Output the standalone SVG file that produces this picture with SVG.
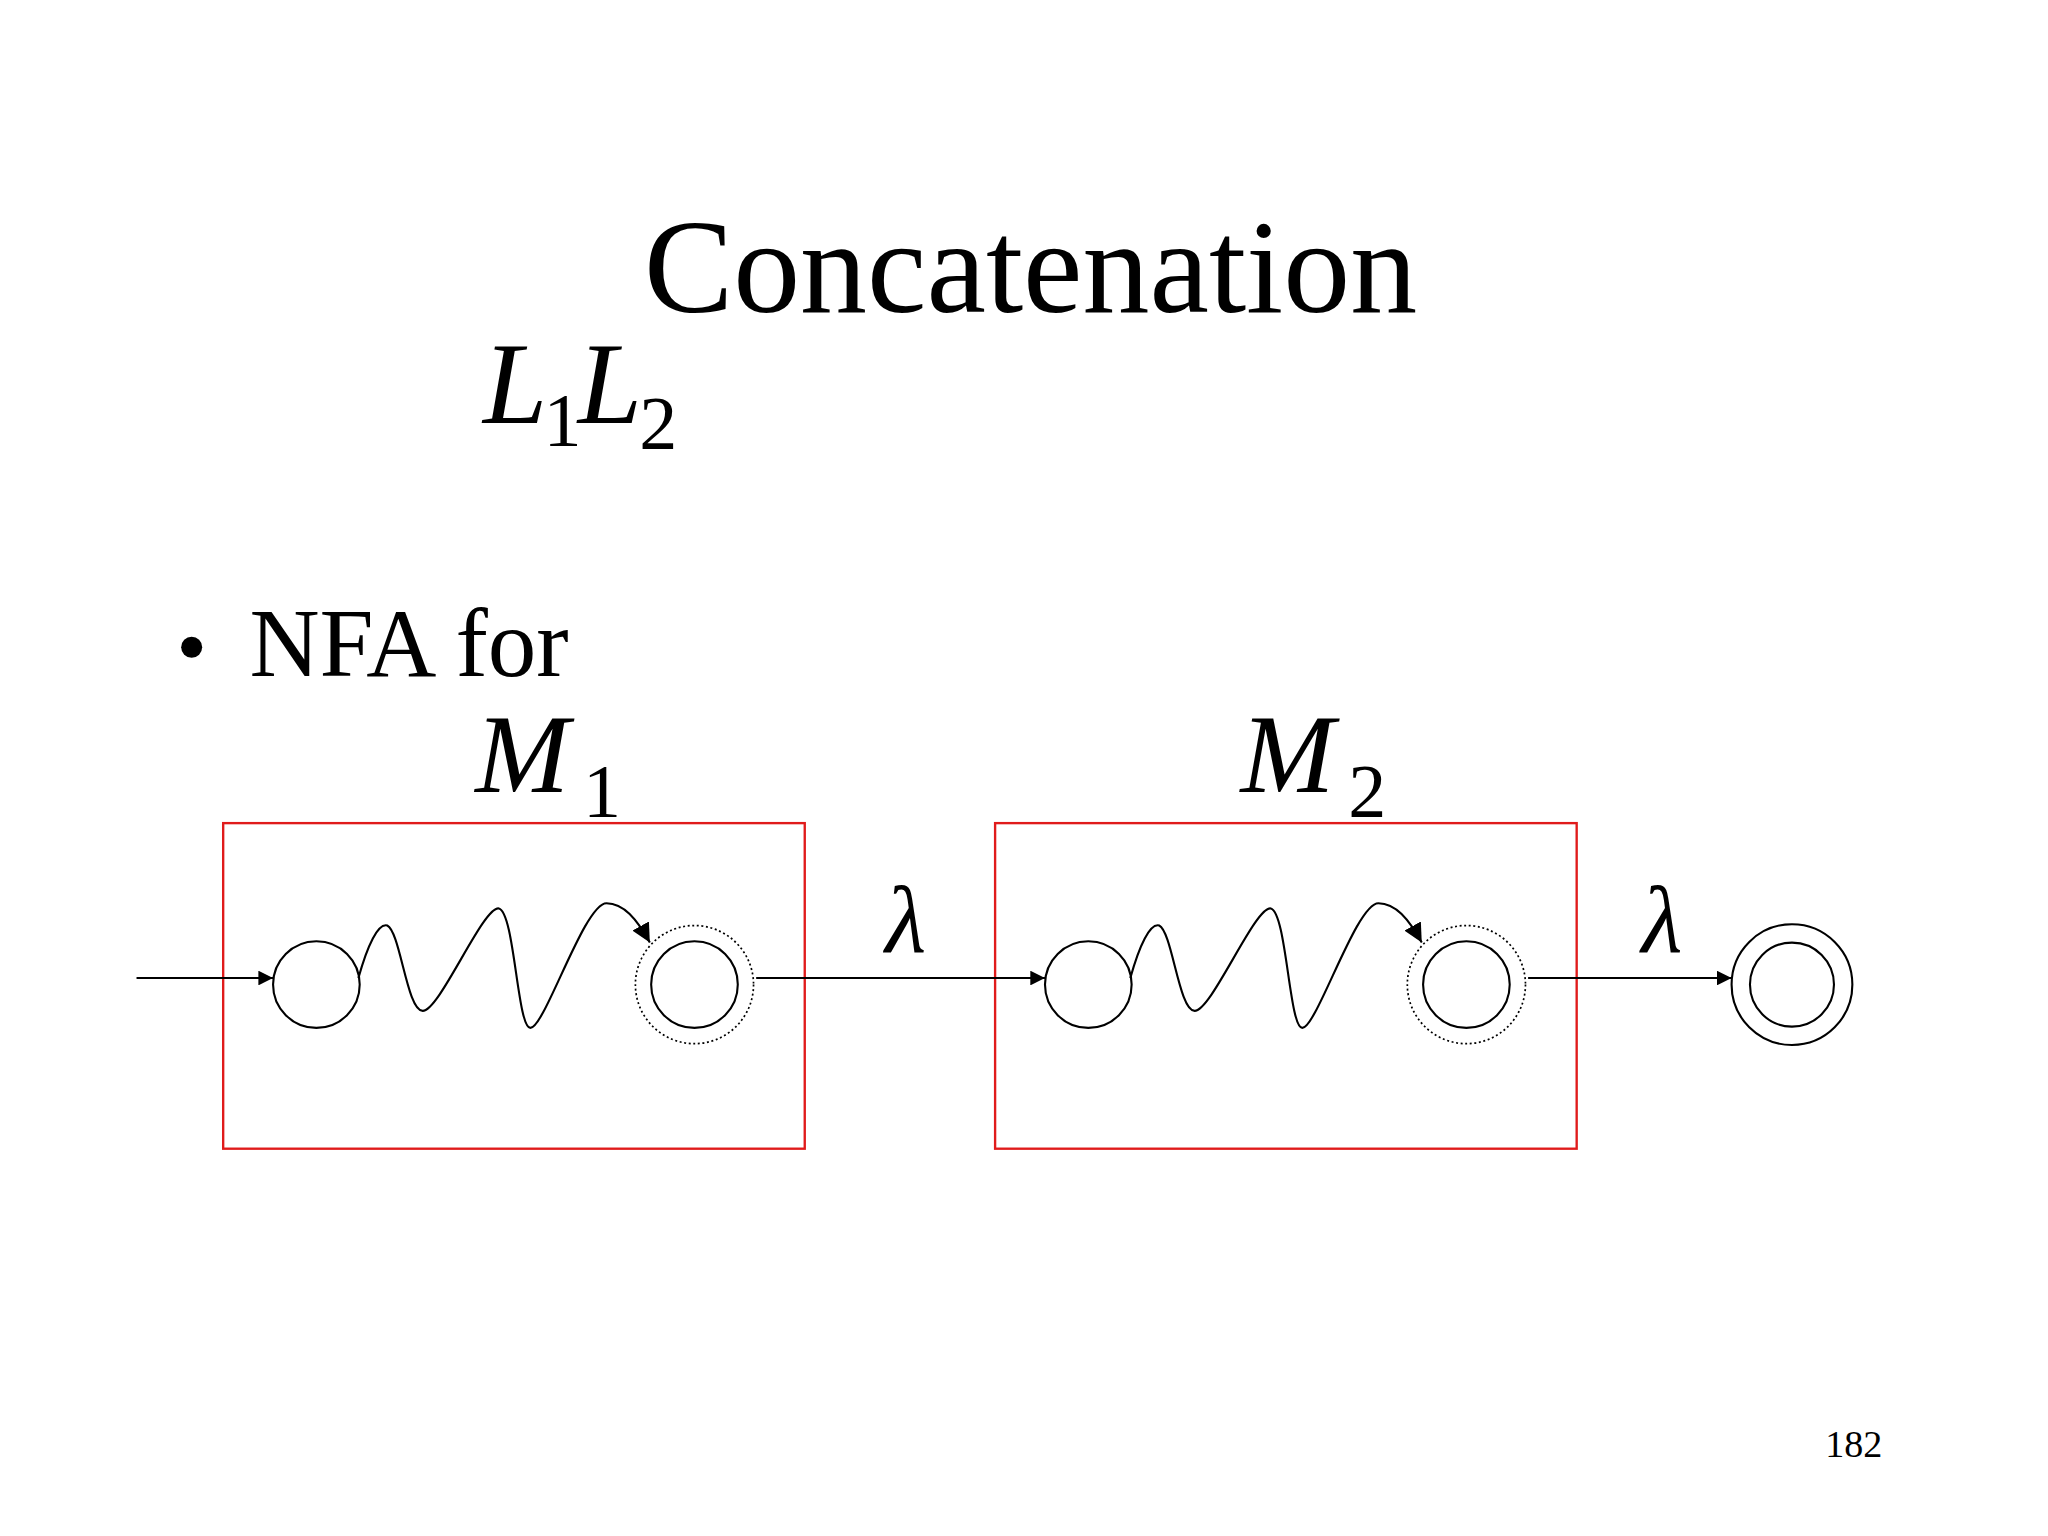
<svg xmlns="http://www.w3.org/2000/svg" width="2048" height="1536" viewBox="0 0 2048 1536">
<defs>
<style>
.t{font-family:"Liberation Serif","Times New Roman",serif;fill:#000}
.i{font-style:italic}
.c{fill:none;stroke:#000;stroke-width:1.6}
.box{fill:none;stroke:#e01b1b;stroke-width:1.8}
.e{fill:none;stroke:#000;stroke-width:1.6}
</style>
<marker id="ah" viewBox="0 0 10 10" refX="10" refY="5" markerWidth="7" markerHeight="7" markerUnits="strokeWidth" orient="auto"><path d="M0,0L10,5L0,10z" fill="#000"/></marker>
<marker id="ah2" viewBox="0 0 10 10" refX="10" refY="5" markerWidth="9" markerHeight="9" markerUnits="strokeWidth" orient="auto"><path d="M0,0L10,5L0,10z" fill="#000"/></marker>
</defs>
<rect width="2048" height="1536" fill="#fff"/>
<g transform="scale(1.3128)">
<text class="t" x="785" y="238" font-size="102" text-anchor="middle">Concatenation</text>
<g id="title-l1l2"><text class="t i" x="368" y="322" font-size="88">L</text><text class="t" x="414" y="340" font-size="58">1</text><text class="t i" x="440" y="322" font-size="88">L</text><text class="t" x="487" y="342" font-size="58">2</text></g>
<circle cx="146" cy="493" r="8" fill="#000"/>
<text class="t" x="190" y="515" font-size="74">NFA for</text>
<g id="m1"><rect class="box" x="170" y="627" width="443" height="248"/><text class="t i" x="362" y="603" font-size="86">M</text><text class="t" x="444" y="622" font-size="58">1</text>
<circle class="c" cx="241" cy="750" r="33"/>
<circle class="c" cx="529" cy="750" r="33"/>
<circle cx="529" cy="750" r="45" fill="none" stroke="#000" stroke-width="1.3" stroke-dasharray="1.5 2"/>
<path class="e" marker-end="url(#ah2)" d="M273,745 C280,720 288,703 295,705 C305,710 310,770 322,770 C335,770 368,690 380,692 C392,695 394,783 404,783 C415,783 445,688 462,688 C475,688 485,700 495,718"/></g>
<g id="m2"><rect class="box" x="758" y="627" width="443" height="248"/><text class="t i" x="945" y="603" font-size="86">M</text><text class="t" x="1027" y="622" font-size="58">2</text>
<circle class="c" cx="829" cy="750" r="33"/>
<circle class="c" cx="1117" cy="750" r="33"/>
<circle cx="1117" cy="750" r="45" fill="none" stroke="#000" stroke-width="1.3" stroke-dasharray="1.5 2"/>
<path class="e" marker-end="url(#ah2)" transform="translate(588,0)" d="M273,745 C280,720 288,703 295,705 C305,710 310,770 322,770 C335,770 368,690 380,692 C392,695 394,783 404,783 C415,783 445,688 462,688 C475,688 485,700 495,718"/></g>
<g id="final"><circle class="c" cx="1365" cy="750" r="32"/><circle class="c" cx="1365" cy="750" r="46"/></g>
<g id="connectors">
<line class="e" x1="104" y1="745" x2="208" y2="745" marker-end="url(#ah)"/>
<line class="e" x1="576" y1="745" x2="796" y2="745" marker-end="url(#ah)"/>
<line class="e" x1="1164" y1="745" x2="1319" y2="745" marker-end="url(#ah)"/>
<text class="t i" x="690" y="725" font-size="72" text-anchor="middle">λ</text>
<text class="t i" x="1266" y="725" font-size="72" text-anchor="middle">λ</text>
</g>
<text class="t" x="1412" y="1110" font-size="29" text-anchor="middle">182</text>
</g>
</svg>
